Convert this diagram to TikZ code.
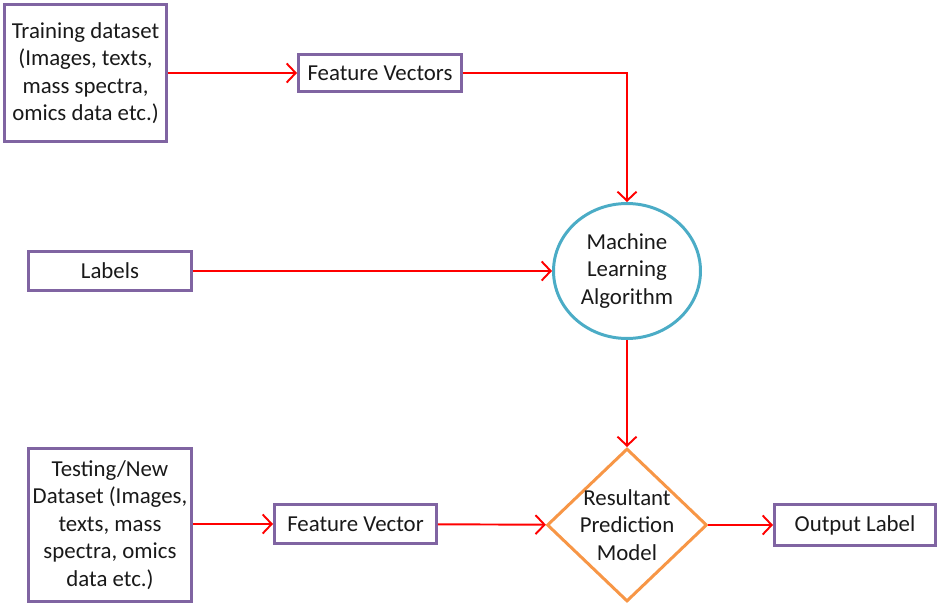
\documentclass[tikz,border=0pt]{standalone}
\usepackage{fontspec}
\setmainfont{Carlito}
\usetikzlibrary{shapes,positioning,arrows.meta}
\tikzset{>={Straight Barb[length=1.8mm,width=3.8mm]}}
\definecolor{boxColor}{HTML}{8064A2}
\definecolor{algoColor}{HTML}{4BACC6}
\definecolor{modelColor}{HTML}{F79646}
\colorlet{arrowColor}{red}
\colorlet{textColor}{black!90}

\begin{document}
\begin{tikzpicture}[x=0.02cm,y=-0.02cm,
    every node/.style={text=textColor,font=\fontsize{13}{15.6}\selectfont},
    box/.style={draw=boxColor,line width=1.7pt,align=center,inner sep=1pt},
    arrow/.style={->,arrowColor,line width=1.1pt}]
  \useasboundingbox (0,0) rectangle (939,608);
  % training side
  \node [box,minimum width=3.24cm,minimum height=2.74cm] (train) at (85.5,73)
    {Training dataset\\(Images, texts,\\mass spectra,\\omics data etc.)};
  \node [box,minimum width=3.26cm,minimum height=0.74cm] (fvtrain) at (380,73) {Feature Vectors};
  \node [box,minimum width=3.26cm,minimum height=0.78cm] (labels) at (110,271) {Labels};
  \node [draw=algoColor,line width=1.7pt,ellipse,minimum width=2.94cm,minimum height=2.7cm,
    align=center] (algo) at (627,271) {Machine\\Learning\\Algorithm};
  % testing side
  \node [box,minimum width=3.26cm,minimum height=3.06cm] (test) at (110,525)
    {Testing/New\\Dataset (Images,\\texts, mass\\spectra, omics\\data etc.)};
  \node [box,minimum width=3.24cm,minimum height=0.78cm] (fvtest) at (355.5,524) {Feature Vector};
  \node [draw=modelColor,line width=1.7pt,diamond,minimum width=3.2cm,minimum height=3.06cm,
    label={[align=center]center:Resultant\\Prediction\\Model}] (model) at (627,525) {};
  \node [box,minimum width=3.22cm,minimum height=0.82cm] (output) at (855,525) {Output Label};
  % connectors
  \draw [arrow] (train) -- (fvtrain);
  \draw [arrow] (fvtrain) -| (algo);
  \draw [arrow] (labels) -- (algo);
  \draw [arrow] (algo) -- (model);
  \draw [arrow] (test.east |- fvtest) -- (fvtest);
  \draw [arrow] (fvtest) -- (model);
  \draw [arrow] (model) -- (output);
\end{tikzpicture}
\end{document}
